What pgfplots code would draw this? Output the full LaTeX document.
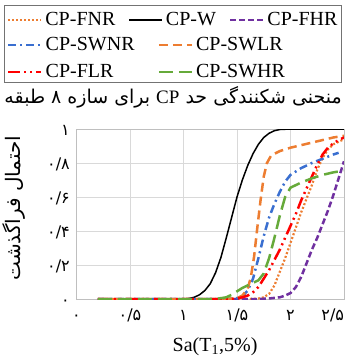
\documentclass[border=0pt]{standalone}
\usepackage{fontspec}
\setmainfont{Liberation Serif}
\newfontfamily\arabicfont[Script=Arabic]{DejaVu Sans}
\TeXXeTstate=1
\usepackage{pgfplots}
\pgfplotsset{compat=1.18}
\definecolor{cOrange}{HTML}{ED7D31}
\definecolor{cPurple}{HTML}{7030A0}
\definecolor{cBlue}{HTML}{3A6FD0}
\definecolor{cRed}{HTML}{FF0000}
\definecolor{cGreen}{HTML}{66AA3A}
\pgfplotsset{
  myaxis/.style={
    scale only axis, width=267.5pt, height=170pt,
    xmin=0, xmax=2.5, ymin=0, ymax=1,
    legend cell align=left,
    legend image code/.code={\draw[##1] (0pt,0pt) -- (33pt,0pt);},
  },
  mylegend/.style={draw=none, fill=none, inner sep=0pt,
    font=\fontsize{20}{22}\selectfont,
    nodes={inner sep=1pt},
    /tikz/every odd column/.append style={column sep=2pt}},
}
\begin{document}
\begin{tikzpicture}
\path[use as bounding box] (-76.5pt,-63pt) rectangle (268.5pt,299pt);
\begin{axis}[myaxis,
  grid=major, major grid style={draw=black!15, line width=0.8pt},
  axis line style={draw=black!25, line width=0.8pt},
  major tick length=0pt,
  xtick={0,0.5,1,1.5,2,2.5},
  xticklabels={۰,۰/۵,۱,۱/۵,۲,\makebox[0pt][r]{۲/۵}},
  ytick={0,0.2,0.4,0.6,0.8,1},
  yticklabels={۰,۰/۲,۰/۴,۰/۶,۰/۸,۱},
  tick label style={font=\arabicfont\fontsize{16}{18}\selectfont, inner sep=0pt},
  xticklabel style={anchor=base, yshift=-21pt},
  yticklabel style={anchor=base east, xshift=-6.5pt, yshift=-6pt},
  xlabel={Sa(T\textsubscript{1},5\%)},
  xlabel style={at={(axis description cs:0.518,-0.282)}, anchor=center, font=\fontsize{20}{24}\selectfont},
  ylabel={\arabicfont\beginR احتمال فراگذشت\endR},
  ylabel style={at={(axis description cs:-0.235,0.535)}, anchor=center, font=\fontsize{20}{24}\selectfont},
  legend columns=3,
  legend style={mylegend, at={(axis description cs:-0.2598,1.641)}, anchor=west,
    /tikz/every even column/.append style={column sep=12pt}},
]
\addplot[cOrange, line width=2.2pt, dash pattern=on 2pt off 2pt] coordinates {
(0.2,0) (1.6,0) (1.7,0.003) (1.75,0.01) (1.8,0.03) (1.85,0.08) (1.9,0.16) (1.95,0.24) (2.0,0.33) (2.05,0.42) (2.1,0.51) (2.15,0.59) (2.2,0.67) (2.25,0.76) (2.3,0.83) (2.35,0.88) (2.4,0.91) (2.45,0.925) (2.5,0.94)};
\addlegendentry{CP-FNR}
\addplot[black, line width=1.5pt] coordinates {
(0.2,0) (1.0,0) (1.05,0.003) (1.1,0.01) (1.15,0.025) (1.2,0.05) (1.25,0.09) (1.3,0.155) (1.35,0.245) (1.4,0.36) (1.45,0.48) (1.5,0.6) (1.55,0.7) (1.6,0.785) (1.65,0.855) (1.7,0.91) (1.75,0.95) (1.8,0.975) (1.85,0.99) (1.9,0.997) (2.0,1) (2.5,1)};
\addlegendentry{CP-W}
\addplot[cPurple, line width=2.5pt, dash pattern=on 6pt off 3pt] coordinates {
(0.2,0) (1.7,0) (1.8,0.003) (1.9,0.01) (1.95,0.02) (2.0,0.035) (2.05,0.07) (2.1,0.13) (2.15,0.21) (2.2,0.29) (2.25,0.36) (2.3,0.44) (2.35,0.52) (2.4,0.61) (2.45,0.71) (2.5,0.81)};
\addlegendentry{CP-FHR}
\end{axis}
\begin{axis}[myaxis, hide axis,
  legend columns=2,
  legend style={mylegend, at={(axis description cs:-0.2598,1.415)}, anchor=west, row sep=10pt,
    /tikz/every even column/.append style={column sep=22pt}},
]
\addplot[cBlue, line width=2.5pt, dash pattern=on 8pt off 4pt on 2pt off 4pt] coordinates {
(0.2,0) (1.4,0) (1.5,0.005) (1.55,0.015) (1.6,0.05) (1.65,0.12) (1.7,0.24) (1.75,0.37) (1.8,0.48) (1.85,0.56) (1.9,0.63) (1.95,0.69) (2.0,0.73) (2.1,0.77) (2.2,0.80) (2.3,0.825) (2.4,0.85) (2.45,0.86)};
\addlegendentry{CP-SWNR}
\addplot[cOrange, line width=2.5pt, dash pattern=on 9pt off 5pt] coordinates {
(0.2,0) (1.4,0) (1.5,0.005) (1.55,0.02) (1.6,0.06) (1.63,0.13) (1.66,0.25) (1.69,0.42) (1.72,0.58) (1.75,0.72) (1.78,0.8) (1.82,0.845) (1.9,0.87) (2.0,0.89) (2.1,0.905) (2.2,0.92) (2.3,0.935) (2.4,0.95) (2.5,0.96)};
\addlegendentry{CP-SWLR}
\addplot[cRed, line width=2.5pt, dash pattern=on 12pt off 4pt on 2pt off 4pt on 2pt off 4pt] coordinates {
(0.2,0) (1.45,0) (1.5,0.003) (1.55,0.01) (1.6,0.02) (1.65,0.04) (1.7,0.07) (1.75,0.12) (1.8,0.17) (1.85,0.23) (1.9,0.29) (1.95,0.36) (2.0,0.43) (2.05,0.5) (2.1,0.58) (2.15,0.65) (2.2,0.72) (2.25,0.79) (2.3,0.85) (2.35,0.89) (2.4,0.915) (2.45,0.935) (2.5,0.95)};
\addlegendentry{CP-FLR}
\addplot[cGreen, line width=2.5pt, dash pattern=on 14pt off 6pt] coordinates {
(0.2,0) (1.3,0) (1.4,0.01) (1.45,0.025) (1.5,0.045) (1.55,0.065) (1.6,0.08) (1.65,0.095) (1.7,0.11) (1.75,0.15) (1.8,0.24) (1.85,0.36) (1.9,0.49) (1.95,0.6) (2.0,0.655) (2.1,0.685) (2.2,0.71) (2.3,0.73) (2.4,0.745) (2.5,0.755)};
\addlegendentry{CP-SWHR}
\end{axis}
\draw[black!55, line width=0.6pt] (-72.5pt,217pt) rectangle (264.5pt,294pt);
\node[anchor=east, inner sep=0pt, font=\fontsize{19}{22}\selectfont] at (265.5pt,202pt)
  {\arabicfont\beginR منحنی شکنندگی حد {\rmfamily CP} برای سازه ۸ طبقه\endR};
\end{tikzpicture}
\end{document}
